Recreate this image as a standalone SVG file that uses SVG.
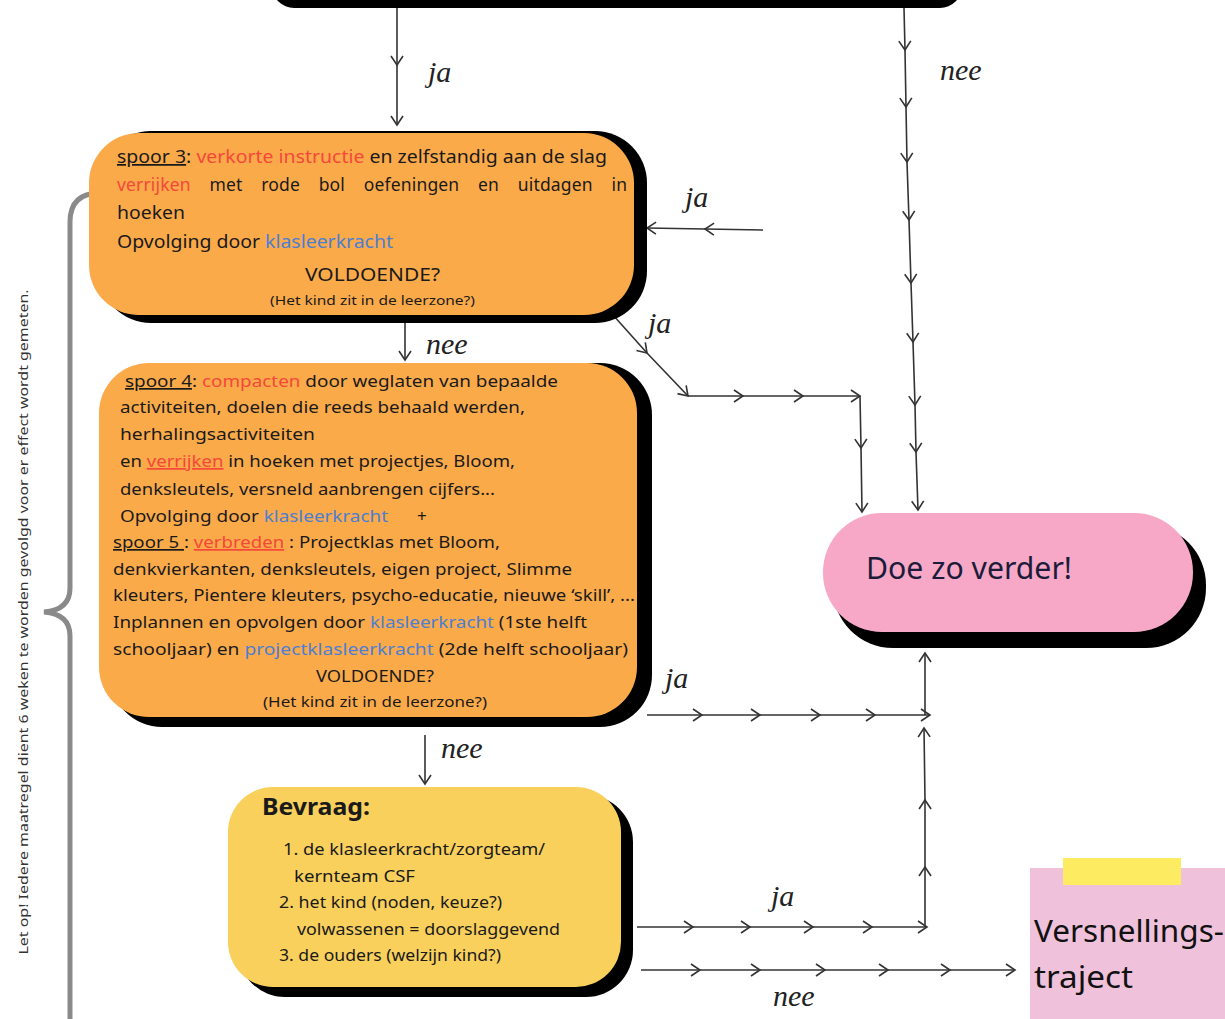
<svg xmlns="http://www.w3.org/2000/svg" width="1225" height="1019" viewBox="0 0 1225 1019">
<style>
.t{font-family:'Noto Sans',Lato,sans-serif;font-size:17px;fill:#1a1a1a}
.t3{font-size:17.5px}
.r{fill:#f5483b}
.b{fill:#4b7fd3}
.u{text-decoration:underline}
.lbl{font-family:'Liberation Serif',serif;font-style:italic;font-size:30px;fill:#222}
.con{fill:none;stroke:#333;stroke-width:1.6;marker-mid:url(#chev);marker-end:url(#chev)}
.shadow{fill:#000}
</style>
<defs>
<marker id="chev" viewBox="-11 -7 13 14" markerWidth="13" markerHeight="14" refX="0" refY="0" orient="auto" markerUnits="userSpaceOnUse">
<path d="M-9,-6 L0,0 L-9,6" fill="none" stroke="#333" stroke-width="1.6"/>
</marker>
</defs>
<rect width="1225" height="1019" fill="#fff"/>

<g id="top-node">
<rect x="272" y="-50" width="690" height="58" rx="22" fill="#000"/>
</g>

<g id="brace">
<path d="M100,193 Q70,193 70,222 L70,588 Q70,610 44,612 Q70,614 70,636 L70,1019" fill="none" stroke="#8a8a8a" stroke-width="5"/>
<text class="t" transform="rotate(-90 28 622)" x="28" y="622" text-anchor="middle" textLength="665" lengthAdjust="spacingAndGlyphs" style="font-size:13px;fill:#333">Let op! Iedere maatregel dient 6 weken te worden gevolgd voor er effect wordt gemeten.</text>
</g>

<g id="connectors">
<polyline class="con" points="397,8 397,65 397,125"/>
<polyline class="con" points="904,8 905,50 906,107 907,162 909,220 911,283 913,342 915,405 916,452 918,510"/>
<polyline class="con" points="763,230 705,229 647,228"/>
<polyline class="con" points="405,322 405,360"/>
<polyline class="con" points="613,315 647,353 688,396"/>
<polyline class="con" points="688,396 743,396 803,396 860,396"/>
<polyline class="con" points="860,396 861,448 862,512"/>
<polyline class="con" points="647,715 702,715 760,715 820,715 875,715 930,715"/>
<polyline class="con" points="925,715 925,653"/>
<polyline class="con" points="637,927 693,927 750,927 813,927 872,927 927,927"/>
<polyline class="con" points="925,927 925,867 925,800 924,728"/>
<polyline class="con" points="425,735 425,784"/>
<polyline class="con" points="641,970 700,970 760,970 825,970 888,970 950,970 1015,970"/>
<text class="lbl" x="428" y="82">ja</text>
<text class="lbl" x="940" y="80">nee</text>
<text class="lbl" x="685" y="207">ja</text>
<text class="lbl" x="648" y="333">ja</text>
<text class="lbl" x="426" y="354">nee</text>
<text class="lbl" x="665" y="688">ja</text>
<text class="lbl" x="441" y="758">nee</text>
<text class="lbl" x="771" y="906">ja</text>
<text class="lbl" x="773" y="1006">nee</text>
</g>

<g id="spoor3">
<rect class="shadow" x="99" y="131" width="548" height="192" rx="52"/>
<rect x="89" y="133" width="545" height="182" rx="50" fill="#fbaa4a"/>
<text class="t t3" x="117" y="163" textLength="490" lengthAdjust="spacingAndGlyphs"><tspan class="u">spoor 3</tspan>: <tspan class="r">verkorte instructie</tspan> en zelfstandig aan de slag</text>
<text class="t t3" x="117" y="191" word-spacing="14" textLength="510" lengthAdjust="spacing"><tspan class="r">verrijken</tspan> met rode bol oefeningen en uitdagen in</text>
<text class="t t3" x="117" y="219" textLength="68" lengthAdjust="spacingAndGlyphs">hoeken</text>
<text class="t t3" x="117" y="248" textLength="276" lengthAdjust="spacingAndGlyphs">Opvolging door <tspan class="b">klasleerkracht</tspan></text>
<text class="t t3" x="305" y="281" textLength="135" lengthAdjust="spacingAndGlyphs">VOLDOENDE?</text>
<text class="t" x="270" y="305" textLength="205" lengthAdjust="spacingAndGlyphs" style="font-size:13px">(Het kind zit in de leerzone?)</text>
</g>

<g id="spoor4">
<rect class="shadow" x="110" y="363" width="542" height="364" rx="52"/>
<rect x="99" y="363" width="538" height="354" rx="50" fill="#fbaa4a"/>
<text class="t" x="125" y="387" textLength="433" lengthAdjust="spacingAndGlyphs"><tspan class="u">spoor 4</tspan>: <tspan class="r">compacten</tspan> door weglaten van bepaalde</text>
<text class="t" x="120" y="413" textLength="405" lengthAdjust="spacingAndGlyphs">activiteiten, doelen die reeds behaald werden,</text>
<text class="t" x="120" y="440" textLength="195" lengthAdjust="spacingAndGlyphs">herhalingsactiviteiten</text>
<text class="t" x="120" y="467" textLength="395" lengthAdjust="spacingAndGlyphs">en <tspan class="r u">verrijken</tspan> in hoeken met projectjes, Bloom,</text>
<text class="t" x="120" y="495" textLength="375" lengthAdjust="spacingAndGlyphs">denksleutels, versneld aanbrengen cijfers...</text>
<text class="t" x="120" y="522" textLength="268" lengthAdjust="spacingAndGlyphs">Opvolging door <tspan class="b">klasleerkracht</tspan></text>
<text class="t" x="417" y="522">+</text>
<text class="t" x="113" y="548" textLength="387" lengthAdjust="spacingAndGlyphs"><tspan class="u">spoor 5 </tspan>: <tspan class="r u">verbreden</tspan> : Projectklas met Bloom,</text>
<text class="t" x="113" y="575" textLength="459" lengthAdjust="spacingAndGlyphs">denkvierkanten, denksleutels, eigen project, Slimme</text>
<text class="t" x="113" y="601" textLength="522" lengthAdjust="spacingAndGlyphs">kleuters, Pientere kleuters, psycho-educatie, nieuwe ‘skill’, ...</text>
<text class="t" x="113" y="628" textLength="474" lengthAdjust="spacingAndGlyphs">Inplannen en opvolgen door  <tspan class="b">klasleerkracht</tspan> (1ste helft</text>
<text class="t" x="113" y="655" textLength="515" lengthAdjust="spacingAndGlyphs">schooljaar) en <tspan class="b">projectklasleerkracht</tspan> (2de helft schooljaar)</text>
<text class="t" x="316" y="682" textLength="118" lengthAdjust="spacingAndGlyphs">VOLDOENDE?</text>
<text class="t" x="263" y="707" textLength="224" lengthAdjust="spacingAndGlyphs" style="font-size:15px">(Het kind zit in de leerzone?)</text>
</g>

<g id="bevraag">
<rect class="shadow" x="238" y="795" width="395" height="202" rx="47"/>
<rect x="228" y="787" width="393" height="200" rx="45" fill="#f9d05c"/>
<text class="t" x="262" y="815" textLength="108" lengthAdjust="spacingAndGlyphs" style="font-size:24px;font-weight:bold">Bevraag:</text>
<text class="t" x="283" y="855" textLength="262" lengthAdjust="spacingAndGlyphs">1. de klasleerkracht/zorgteam/</text>
<text class="t" x="294" y="882" textLength="121" lengthAdjust="spacingAndGlyphs">kernteam CSF</text>
<text class="t" x="279" y="908" textLength="223" lengthAdjust="spacingAndGlyphs">2. het kind (noden, keuze?)</text>
<text class="t" x="297" y="935" textLength="263" lengthAdjust="spacingAndGlyphs">volwassenen = doorslaggevend</text>
<text class="t" x="279" y="961" textLength="222" lengthAdjust="spacingAndGlyphs">3. de ouders (welzijn kind?)</text>
</g>

<g id="doe-zo-verder">
<rect class="shadow" x="833" y="525" width="373" height="123" rx="60"/>
<rect x="823" y="513" width="370" height="119" rx="59" fill="#f6a8c6"/>
<text class="t" x="866" y="579" textLength="206" lengthAdjust="spacingAndGlyphs" style="font-size:30px;fill:#1c1c3a">Doe zo verder!</text>
</g>

<g id="versnellingstraject">
<rect x="1030" y="868" width="200" height="160" fill="#efc1db"/>
<rect x="1063" y="858" width="118" height="27" fill="#fdec62"/>
<text class="t" x="1034" y="942" textLength="190" lengthAdjust="spacingAndGlyphs" style="font-size:30px;fill:#111">Versnellings-</text>
<text class="t" x="1034" y="988" textLength="99" lengthAdjust="spacingAndGlyphs" style="font-size:30px;fill:#111">traject</text>
</g>
</svg>
